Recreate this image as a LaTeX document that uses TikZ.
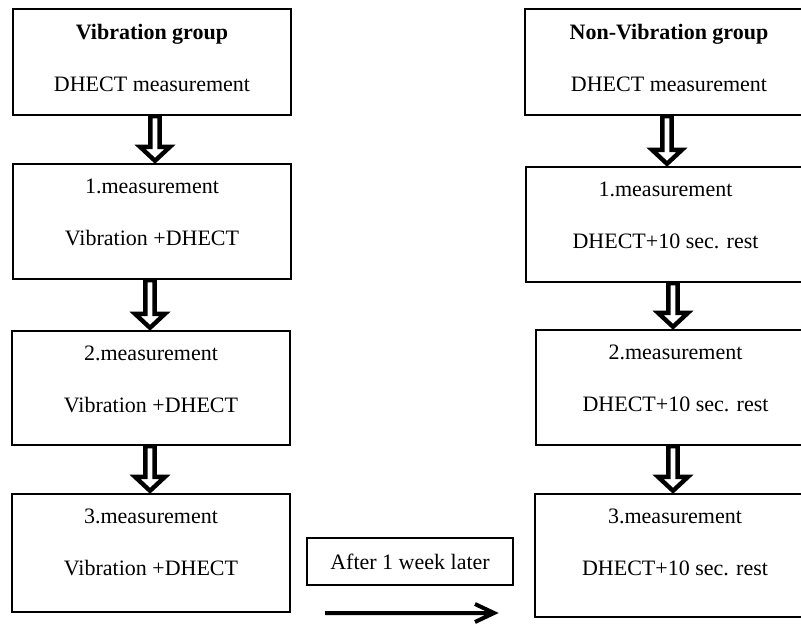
\documentclass[tikz,border=0pt]{standalone}
\usepackage{fontspec}
\setmainfont{Liberation Serif}
\usetikzlibrary{calc,fit}
\begin{document}
\begin{tikzpicture}[x=1pt,y=-1pt,
  box/.style={draw, line width=2.4pt, inner sep=0pt},
  txt/.style={font=\fontsize{22}{52}\selectfont, align=center, inner sep=0pt, anchor=north},
  blockarrow/.style={line width=4.4pt, fill=white, miter limit=10,
    to path={let \p1=(\tikztostart), \p2=(\tikztotarget) in
      (\x1-4.6pt,\y1) -- (\x1-4.6pt,\y2+16pt) -- (\x1-15pt,\y2+16pt) -- (\x1,\y2+2pt)
      -- (\x1+15pt,\y2+16pt) -- (\x1+4.6pt,\y2+16pt) -- (\x1+4.6pt,\y1) -- cycle}},
  weekarrow/.style={line width=4pt, miter limit=10},
]
\useasboundingbox (0,0) rectangle (801,627);

% left column
\node[box, fit={(13,9) (291,115)}] (L0) {};
\node[box, fit={(13,164) (291,279)}] (L1) {};
\node[box, fit={(12,331) (290,445)}] (L2) {};
\node[box, fit={(12,494) (290,612)}] (L3) {};

% right column
\node[box, fit={(525,9) (813,115)}] (R0) {};
\node[box, fit={(526,167) (805,282)}] (R1) {};
\node[box, fit={(536,330) (815,445)}] (R2) {};
\node[box, fit={(535,494) (815,617)}] (R3) {};

% texts
\node[txt] (L0t) at ($(L0.north)+(0,16)$) {\textbf{Vibration group}\\DHECT measurement};
\node[txt] (L1t) at ($(L1.north)+(0,16)$) {1.measurement\\Vibration +DHECT};
\node[txt] (L2t) at ($(L2.north)+(0,16)$) {2.measurement\\Vibration +DHECT};
\node[txt] (L3t) at ($(L3.north)+(0,16)$) {3.measurement\\Vibration +DHECT};
\node[txt] (R0t) at ($(R0.north)+(0,16)$) {\textbf{Non-Vibration group}\\DHECT measurement};
\node[txt] (R1t) at ($(R1.north)+(0,16)$) {1.measurement\\DHECT+10 sec. rest};
\node[txt] (R2t) at ($(R2.north)+(0,16)$) {2.measurement\\DHECT+10 sec. rest};
\node[txt] (R3t) at ($(R3.north)+(0,16)$) {3.measurement\\DHECT+10 sec. rest};

% block arrows
\draw[blockarrow] ([xshift=3pt]L0.south) to (L1.north);
\draw[blockarrow] ([xshift=-2pt]L1.south) to (L2.north);
\draw[blockarrow] ([xshift=-1pt]L2.south) to (L3.north);
\draw[blockarrow] ([xshift=-2pt]R0.south) to (R1.north);
\draw[blockarrow] ([xshift=7.5pt]R1.south) to (R2.north);
\draw[blockarrow] ([xshift=-2.5pt]R2.south) to (R3.north);

% week box and arrow
\node[box, line width=2pt, fit={(307,538) (513,585)}] (W) {};
\node[font=\fontsize{22}{26}\selectfont, inner sep=0pt] (Wt) at (W.center) {After 1 week later};
\coordinate (A1) at (325,613);
\coordinate (A2) at (494,613);
\draw[weekarrow] (A1) -- (A2) ($(A2)+(-19,-9)$) -- (A2) -- ($(A2)+(-19,9)$);
\end{tikzpicture}
\end{document}
